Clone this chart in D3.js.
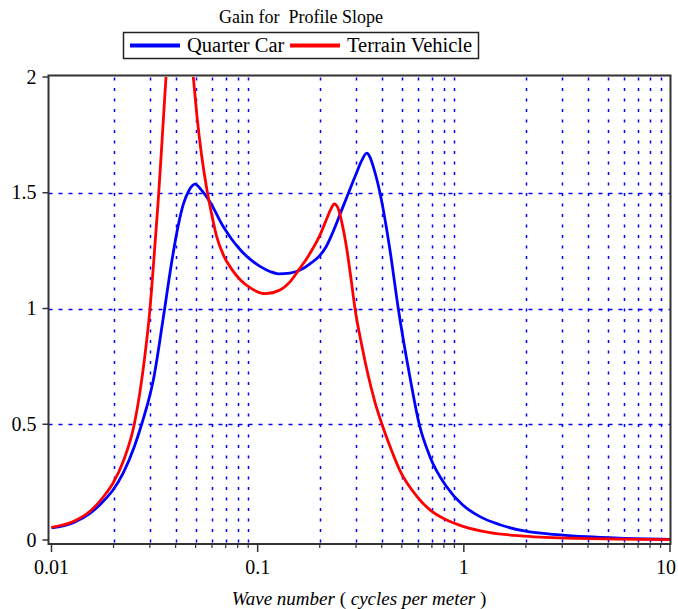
<!DOCTYPE html>
<html>
<head>
<meta charset="utf-8">
<script src="https://cdn.jsdelivr.net/npm/d3@7"></script>
<style>
  body { margin: 0; background: #fff; }
  svg { display: block; font-family: "Liberation Serif", "Times New Roman", serif; }
</style>
</head>
<body>
<svg id="chart" width="678" height="609"></svg>
<script>
// wave number (cycles per meter) and gain
const quarterCarX = [0.01, 0.01276, 0.01537, 0.01852, 0.0198, 0.02229, 0.02521, 0.02737, 0.0296, 0.03117,
  0.03485, 0.03827, 0.04121, 0.04357, 0.04644, 0.04966, 0.0535, 0.05871, 0.0681, 0.07469, 0.08208, 0.09178,
  0.1026, 0.1147, 0.1259, 0.1434, 0.1604, 0.1793, 0.2, 0.2151, 0.2317, 0.2555, 0.2751, 0.2998,
  0.32, 0.3379, 0.35, 0.3636, 0.3919, 0.4382, 0.4808, 0.5435, 0.6077, 0.6848, 0.8252, 0.9822,
  1.197, 1.496, 1.963, 2.924, 3.94, 5.71, 10];
const quarterCarY = [0.052, 0.075, 0.115, 0.183, 0.214, 0.29, 0.403, 0.5, 0.605, 0.69,
  0.96, 1.2, 1.36, 1.45, 1.51, 1.537, 1.51, 1.46, 1.354, 1.30, 1.255, 1.213,
  1.182, 1.16, 1.15, 1.153, 1.166, 1.193, 1.228, 1.268, 1.33, 1.425, 1.497, 1.58,
  1.64, 1.671, 1.655, 1.613, 1.5, 1.253, 1.0, 0.72, 0.5, 0.36, 0.23, 0.153,
  0.101, 0.066, 0.039, 0.022, 0.014, 0.008, 0.003];

// terrain vehicle runs off the top of the plot between its two branches (null = gap)
const terrainX = [0.01, 0.01276, 0.01537, 0.01852, 0.0198, 0.02229, 0.02521, 0.02686, 0.02841, 0.03005,
  0.03142, 0.03296, 0.03435, 0.03592, null, 0.04873, 0.05077, 0.0535, 0.05656, 0.06004, 0.06328,
  0.06866, 0.07479, 0.08208, 0.09178, 0.1085, 0.1283, 0.1434, 0.1591, 0.1728, 0.1854, 0.2,
  0.2168, 0.2267, 0.2352, 0.2451, 0.2563, 0.2702, 0.2835, 0.2965, 0.3205, 0.3426, 0.3705,
  0.4008, 0.4382, 0.4898, 0.5903, 0.6848, 0.8252, 0.9822, 1.339, 1.963, 3.656, 10];
const terrainY = [0.055, 0.08, 0.124, 0.205, 0.243, 0.34, 0.5, 0.64, 0.8, 1.0,
  1.22, 1.47, 1.72, 2.0, null, 2.0, 1.83, 1.66, 1.52, 1.4, 1.31,
  1.225, 1.17, 1.125, 1.09, 1.064, 1.08, 1.115, 1.17, 1.215, 1.26, 1.315,
  1.39, 1.43, 1.452, 1.435, 1.37, 1.26, 1.13, 1.0, 0.837, 0.716, 0.596,
  0.5, 0.405, 0.30, 0.19, 0.13, 0.086, 0.06, 0.032, 0.017, 0.007, 0.002];

const xTicks = [0.01, 0.1, 1, 10];
const xTickLabels = ["0.01", "0.1", "1", "10"];
const yTicks = [0, 0.5, 1, 1.5, 2];
const yTickLabels = ["0", "0.5", "1", "1.5", "2"];
const yGrid = [0.5, 1, 1.5];
const seriesNames = ["Quarter Car", "Terrain Vehicle"];
const seriesColors = ["#0000ff", "#ff0000"];

const svg = d3.select("#chart");
const W = 678;

// plot frame edges
const frameL = 48.5, frameR = 670.5, frameT = 75.5, frameB = 544;

const x = d3.scaleLog()
    .domain([0.01, 10])
    .range([51.5, 670]);

const y = d3.scaleLinear()
    .domain([0, 2])
    .range([540, 77]);

// minor grid positions 2..9 in each decade
const xGrid = [];
[0.01, 0.1, 1].forEach(dec => {
    for (let k = 2; k <= 9; k++) xGrid.push(+(dec * k).toPrecision(3));
});

svg.append("defs").append("clipPath")
    .attr("id", "plotclip")
    .append("rect")
    .attr("x", frameL).attr("y", frameT)
    .attr("width", frameR - frameL).attr("height", frameB - frameT);

// grid lines
svg.append("g")
    .selectAll("line")
    .data(xGrid)
    .join("line")
    .attr("x1", d => Math.round(x(d)) + 0.5)
    .attr("x2", d => Math.round(x(d)) + 0.5)
    .attr("y1", frameT + 2)
    .attr("y2", frameB)
    .attr("stroke", "#0000ff")
    .attr("stroke-width", 1.5)
    .attr("stroke-dasharray", "3,7.5");

svg.append("g")
    .selectAll("line")
    .data(yGrid)
    .join("line")
    .attr("x1", frameL)
    .attr("x2", frameR)
    .attr("y1", d => Math.round(y(d)) + 0.5)
    .attr("y2", d => Math.round(y(d)) + 0.5)
    .attr("stroke", "#0000ff")
    .attr("stroke-width", 1.5)
    .attr("stroke-dasharray", "4,6");

// curves
const line = d3.line()
    .defined((d) => d[0] !== null)
    .x(d => x(d[0]))
    .y(d => y(d[1]))
    .curve(d3.curveMonotoneX);

const curves = [
    d3.zip(quarterCarX, quarterCarY),
    d3.zip(terrainX, terrainY)
];

svg.append("g")
    .attr("clip-path", "url(#plotclip)")
    .selectAll("path")
    .data(curves)
    .join("path")
    .attr("fill", "none")
    .attr("stroke", (d, i) => seriesColors[i])
    .attr("stroke-width", 2.8)
    .attr("stroke-linejoin", "round")
    .attr("d", line);

// frame
svg.append("rect")
    .attr("x", frameL).attr("y", frameT)
    .attr("width", frameR - frameL).attr("height", frameB - frameT)
    .attr("fill", "none")
    .attr("stroke", "#333")
    .attr("stroke-width", 2);

// y axis ticks
const yAxis = svg.append("g");
yAxis.selectAll("line")
    .data(yTicks)
    .join("line")
    .attr("x1", frameL - 6).attr("x2", frameL)
    .attr("y1", d => y(d)).attr("y2", d => y(d))
    .attr("stroke", "#333")
    .attr("stroke-width", 1.5);
yAxis.selectAll("text")
    .data(yTicks)
    .join("text")
    .attr("x", frameL - 12)
    .attr("y", d => y(d))
    .attr("dy", "0.33em")
    .attr("text-anchor", "end")
    .style("font-size", "20px")
    .text((d, i) => yTickLabels[i]);

// x axis ticks
const xAxis = svg.append("g");
xAxis.selectAll("line.minor")
    .data(xGrid)
    .join("line")
    .attr("class", "minor")
    .attr("x1", d => x(d)).attr("x2", d => x(d))
    .attr("y1", frameB).attr("y2", frameB + 4)
    .attr("stroke", "#333")
    .attr("stroke-width", 1.2);
xAxis.selectAll("line.major")
    .data(xTicks)
    .join("line")
    .attr("class", "major")
    .attr("x1", d => x(d)).attr("x2", d => x(d))
    .attr("y1", frameB).attr("y2", frameB + 8)
    .attr("stroke", "#333")
    .attr("stroke-width", 1.5);
xAxis.selectAll("text")
    .data(xTicks)
    .join("text")
    .attr("x", d => Math.min(x(d), W - 12))   // keep the last label inside the window
    .attr("y", 574)
    .attr("text-anchor", "middle")
    .style("font-size", "20px")
    .text((d, i) => xTickLabels[i]);

// axis title
const xTitle = svg.append("text")
    .attr("x", 359)
    .attr("y", 605)
    .attr("text-anchor", "middle")
    .style("font-size", "19px");
xTitle.append("tspan").style("font-style", "italic").text("Wave number ");
xTitle.append("tspan").text("( ");
xTitle.append("tspan").style("font-style", "italic").text("cycles per meter");
xTitle.append("tspan").text(" )");

// chart title
svg.append("text")
    .attr("x", 301)
    .attr("y", 23)
    .attr("text-anchor", "middle")
    .style("font-size", "18px")
    .style("white-space", "pre")
    .attr("xml:space", "preserve")
    .text("Gain for  Profile Slope");

// legend
const legend = svg.append("g");
legend.append("rect")
    .attr("x", 123.5).attr("y", 32.5)
    .attr("width", 355).attr("height", 26)
    .attr("fill", "#fff")
    .attr("stroke", "#222")
    .attr("stroke-width", 1.5);

const legendX = [130, 290];
const legendItem = legend.selectAll("g.item")
    .data(seriesNames)
    .join("g")
    .attr("class", "item")
    .attr("transform", (d, i) => `translate(${legendX[i]},45.5)`);
legendItem.append("line")
    .attr("x1", 0).attr("x2", 50)
    .attr("stroke", (d, i) => seriesColors[i])
    .attr("stroke-width", 4);
legendItem.append("text")
    .attr("x", 57)
    .attr("dy", "0.33em")
    .style("font-size", "20.5px")
    .text(d => d);
</script>
</body>
</html>
